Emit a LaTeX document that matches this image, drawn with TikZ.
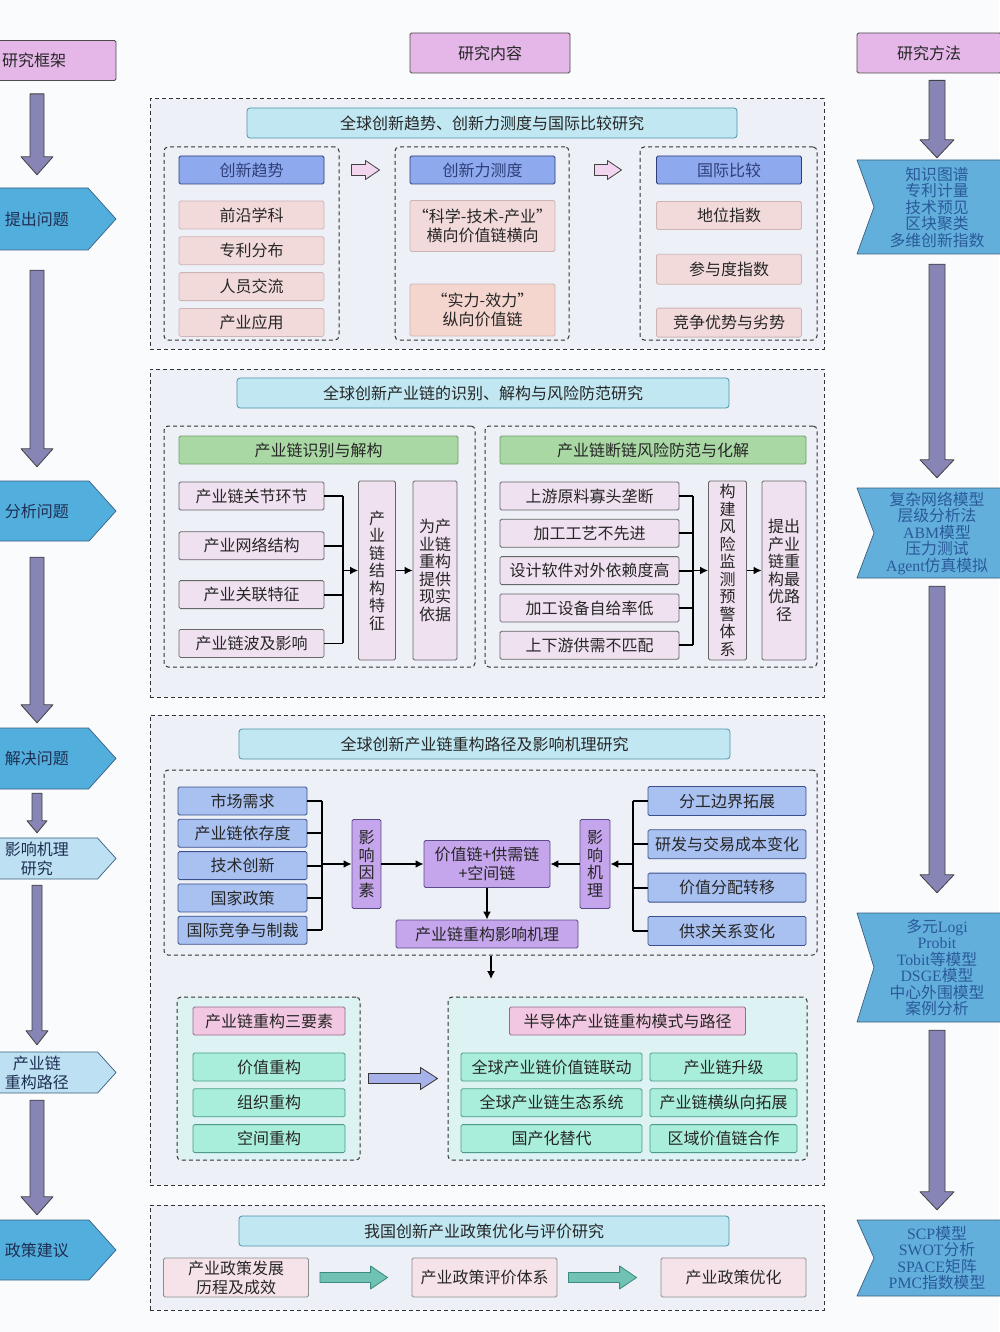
\documentclass[tikz,border=0pt]{standalone}
\usepackage{fontspec}
\setmainfont{Noto Sans CJK SC}
\newfontfamily\latinserif{Liberation Serif}
\usepackage{xcolor}
\usepackage{tikz}
\usetikzlibrary{
  arrows.meta,
  positioning,
  fit,
  calc
}
\definecolor{rkPage}{HTML}{FAFBFD}
\definecolor{rkPanel}{HTML}{EDF1F7}
\definecolor{rkTitle}{HTML}{C0E7F2}
\definecolor{rkTitleLine}{HTML}{4E93AA}
\definecolor{rkHead}{HTML}{8FA9EE}
\definecolor{rkHeadLine}{HTML}{2E3F78}
\definecolor{rkRose}{HTML}{F2DADB}
\definecolor{rkPeach}{HTML}{F5D6CF}
\definecolor{rkRoseLine}{HTML}{CDB5B6}
\definecolor{rkGreen}{HTML}{AAD8A4}
\definecolor{rkGreenLine}{HTML}{6E9E6A}
\definecolor{rkLilac}{HTML}{F0E1F0}
\definecolor{rkSky}{HTML}{A9C1F1}
\definecolor{rkSkyLine}{HTML}{3A4F8C}
\definecolor{rkViolet}{HTML}{C5A5EC}
\definecolor{rkVioletLine}{HTML}{5B4A86}
\definecolor{rkMint}{HTML}{A8EEDB}
\definecolor{rkMintLine}{HTML}{4B9B8A}
\definecolor{rkMintPanel}{HTML}{DDF2F3}
\definecolor{rkPinkHead}{HTML}{F2C7E2}
\definecolor{rkPinkLine}{HTML}{9A6A8A}
\definecolor{rkPolicy}{HTML}{F6E3E9}
\definecolor{rkTeal}{HTML}{6FC2B4}
\definecolor{rkTealLine}{HTML}{3F8A80}
\definecolor{rkFrame}{HTML}{E5B7E8}
\definecolor{rkStep}{HTML}{52AEDD}
\definecolor{rkStepLight}{HTML}{BDE0F2}
\definecolor{rkStepLine}{HTML}{3B5F80}
\definecolor{rkMethod}{HTML}{62AFDB}
\definecolor{rkMethodText}{HTML}{2A5A9A}
\definecolor{rkInk}{HTML}{1E2F52}
\definecolor{rkFlow}{HTML}{8784B6}
\definecolor{rkHollow}{HTML}{F2D5EE}
\definecolor{rkLavender}{HTML}{A7B2EA}
\newcommand\rkfont{\fontsize{16}{19}\selectfont}
\newcommand\rkvfont{\fontsize{16}{17.5}\selectfont}
\newcommand\rkmfont{\fontsize{15.8}{16.5}\selectfont}
\tikzset{
  rknode/.style={
    draw, line width=0.8pt, inner sep=1pt, align=center, font=\rkfont,
    text=black!85, rounded corners=1.5pt
  },
  headtag/.style={rknode, fill=rkFrame, draw=black!70, minimum height=40},
  titlebar/.style={rknode, fill=rkTitle, draw=rkTitleLine, rounded corners=3pt, minimum width=490, minimum height=30},
  headbox/.style={rknode, fill=rkHead, draw=rkHeadLine, text=rkHeadLine, minimum width=145, minimum height=28},
  rosebox/.style={rknode, fill=rkRose, draw=rkRoseLine, minimum width=145, minimum height=28},
  greenbar/.style={rknode, fill=rkGreen, draw=rkGreenLine, minimum height=28},
  lilacbox/.style={rknode, fill=rkLilac, draw=black!60, minimum height=28},
  vbox/.style={rknode, fill=rkLilac, draw=black!60, font=\rkvfont, minimum height=179},
  skybox/.style={rknode, fill=rkSky, draw=rkSkyLine, minimum height=28},
  violetbox/.style={rknode, fill=rkViolet, draw=rkVioletLine, font=\rkvfont},
  pinkhead/.style={rknode, fill=rkPinkHead, draw=rkPinkLine, minimum height=28},
  mintbox/.style={rknode, fill=rkMint, draw=rkMintLine, minimum height=28},
  policybox/.style={rknode, fill=rkPolicy, draw=black!45, minimum width=145, minimum height=39},
  secbox/.style={draw=black!80, dash pattern=on 4pt off 3pt, line width=1pt, fill=rkPanel, inner sep=0},
  grpbox/.style={secbox, rounded corners=4pt},
  mintgrp/.style={grpbox, fill=rkMintPanel},
  stepshape/.style={draw=rkStepLine, line width=0.7pt},
  steptext/.style={align=center, inner sep=0, font=\rkfont, text=rkInk, minimum width=72},
  methodshape/.style={fill=rkMethod, draw=rkStepLine, line width=0.7pt},
  methodtext/.style={align=center, inner sep=0, font=\rkmfont, text=rkMethodText, minimum width=120},
  leftflow/.style={fill=rkFlow, draw=black!75, line width=0.8pt},
  hollowflow/.style={fill=rkHollow, draw=black!75, line width=0.8pt},
  lavflow/.style={fill=rkLavender, draw=black!80, line width=0.8pt},
  tealflow/.style={fill=rkTeal, draw=rkTealLine, line width=0.8pt},
  link/.style={line width=1.8pt, black},
  linkarrow/.style={link, -{Latex[length=8pt, width=8pt]}}
}
% chevron step on the left edge: name, top, bottom, fill, text
\newcommand\leftstep[5]{%
  \pgfmathsetmacro\rkmid{(#2+#3)/2}%
  \pgfmathsetmacro\rkflat{116-0.9*(#3-#2)/2}%
  \filldraw[stepshape, fill=#4] (-2,#2) -- (\rkflat,#2) -- (116,\rkmid) -- (\rkflat,#3) -- (-2,#3) -- cycle;
  \node[steptext, minimum height={#3-#2}] (#1) at (37,\rkmid) {#5};}
% notched method box on the right edge: name, top, bottom, text
\newcommand\methodbox[4]{%
  \pgfmathsetmacro\rkmid{(#2+#3)/2}%
  \filldraw[methodshape] (857,#2) -- (1001,#2) -- (1001,#3) -- (857,#3) -- (874,\rkmid) -- cycle;
  \node[methodtext, minimum height={#3-#2}] (#1) at (937,\rkmid) {#4};}
% block arrows: style, from, to, shaft half, head half, head length
\newcommand\blockdown[6]{%
  \path[#1] let \p1=#2, \p2=#3 in
    (\x1-#4pt,\y1) -- (\x1+#4pt,\y1) -- (\x1+#4pt,\y2+#6pt) -- (\x1+#5pt,\y2+#6pt)
    -- (\x1,\y2) -- (\x1-#5pt,\y2+#6pt) -- (\x1-#4pt,\y2+#6pt) -- cycle;}
\newcommand\blockright[6]{%
  \path[#1] let \p1=#2, \p2=#3 in
    (\x1,\y1+#4pt) -- (\x2-#6pt,\y1+#4pt) -- (\x2-#6pt,\y1+#5pt) -- (\x2,\y1)
    -- (\x2-#6pt,\y1-#5pt) -- (\x2-#6pt,\y1-#4pt) -- (\x1,\y1-#4pt) -- cycle;}

\begin{document}
\begin{tikzpicture}[x=1pt, y=-1pt, line join=round]
  \useasboundingbox (0,0) rectangle (999,1332);
  \fill[rkPage] (0,0) rectangle (999,1332);

  % column heads
  \node[headtag, minimum width=118, text width=110, align=left, inner xsep=4pt] (frame) at (57,60.5) {研究框架};
  \node[headtag, minimum width=160] (content) at (490,53) {研究内容};
  \node[headtag, minimum width=144] (method) at (929,53) {研究方法};

  % left: research frame
  \leftstep{sAsk}{188}{250}{rkStep}{提出问题}
  \leftstep{sAnalyze}{481}{541}{rkStep}{分析问题}
  \leftstep{sSolve}{728}{789}{rkStep}{解决问题}
  \leftstep{sMechStep}{838}{879}{rkStepLight}{影响机理\\研究}
  \leftstep{sRoute}{1052}{1093}{rkStepLight}{产业链\\重构路径}
  \leftstep{sAdvice}{1220}{1280}{rkStep}{政策建议}
  \foreach \a/\b/\g/\hg/\sh/\hh/\hl in {frame/sAsk/13/13/7/16/18, sAsk/sAnalyze/20/14/7/16/18,
      sAnalyze/sSolve/16/5/7/16/18, sSolve/sMechStep/4/5/5/10/12, sMechStep/sRoute/6/7/5/11/14,
      sRoute/sAdvice/7/5/7/16/18}
    \blockdown{leftflow}{($(\a.south -| \b.north)+(0,\g)$)}{($(\b.north)+(0,-\hg)$)}{\sh}{\hh}{\hl};

  % right: methods
  \methodbox{m1}{160}{254}{知识图谱\\专利计量\\技术预见\\区块聚类\\多维创新指数}
  \methodbox{m2}{488}{578}{复杂网络模型\\层级分析法\\{\latinserif ABM}模型\\压力测试\\{\latinserif Agent}仿真模拟}
  \methodbox{m3}{913}{1022}{多元{\latinserif Logi}\\{\latinserif Probit}\\{\latinserif Tobit}等模型\\{\latinserif DSGE}模型\\中心外围模型\\案例分析}
  \methodbox{m4}{1220}{1296}{{\latinserif SCP}模型\\{\latinserif SWOT}分析\\{\latinserif SPACE}矩阵\\{\latinserif PMC}指数模型}
  \foreach \a/\b/\g/\hg in {method/m1/7/2, m1/m2/10/10, m2/m3/8/20, m3/m4/8/10}
    \blockdown{leftflow}{($(\a.south -| \b.north)+(0,\g)$)}{($(\b.north)+(0,-\hg)$)}{8}{17}{18};

  % section 1: trend, measurement, comparison
  \node[secbox, fit={(150,99) (824,349)}] (secTrend) {};
  \node[titlebar] (tTrend) at (492,123) {全球创新趋势、创新力测度与国际比较研究};
  \node[grpbox, fit={(164,147) (339,340)}] (gTrend) {};
  \node[grpbox, fit={(395,147) (569,340)}] (gPower) {};
  \node[grpbox, fit={(640,147) (817,340)}] (gRank) {};
  \node[headbox] (hTrend) at (251.5,170) {创新趋势};
  \node[headbox] (hPower) at (482.5,170) {创新力测度};
  \node[headbox] (hRank) at (729,170) {国际比较};
  \node[rosebox] (t1) at (251.5,215) {前沿学科};
  \node[rosebox, below=7pt of t1] (t2) {专利分布};
  \node[rosebox, below=7pt of t2] (t3) {人员交流};
  \node[rosebox, below=7pt of t3] (t4) {产业应用};
  \node[rosebox, minimum height=51] (w1) at (482.5,226) {“科学-技术-产业”\\横向价值链横向};
  \node[rosebox, fill=rkPeach, minimum height=52] (w2) at (482.5,310) {“实力-效力”\\纵向价值链};
  \node[rosebox] (r1) at (729,215.5) {地位指数};
  \node[rosebox, minimum height=30, below=24pt of r1] (r2) {参与度指数};
  \node[rosebox, minimum height=29, below=23pt of r2] (r3) {竞争优势与劣势};
  \blockright{hollowflow}{($(gTrend.east |- hTrend)+(12,0)$)}{($(gPower.west |- hTrend)+(-15,0)$)}{5.5}{9.5}{14};
  \blockright{hollowflow}{($(gPower.east |- hPower)+(25,0)$)}{($(gRank.west |- hPower)+(-18,0)$)}{5.5}{9.5}{14};

  % section 2: identification and risk
  \node[secbox, fit={(150,369) (824,697)}] (secChain) {};
  \node[titlebar, minimum width=492] (tChain) at (483,393) {全球创新产业链的识别、解构与风险防范研究};
  \node[grpbox, fit={(164,426) (475,667)}] (gIdent) {};
  \node[grpbox, fit={(485,426) (817,667)}] (gRisk) {};
  \node[greenbar, minimum width=279] (hIdent) at (318.5,450) {产业链识别与解构};
  \node[greenbar, minimum width=306] (hRisk) at (653,450) {产业链断链风险防范与化解};
  \node[lilacbox, minimum width=145] (i1) at (251.5,496) {产业链关节环节};
  \node[lilacbox, minimum width=145, below=21pt of i1] (i2) {产业网络结构};
  \node[lilacbox, minimum width=145, below=20pt of i2] (i3) {产业关联特征};
  \node[lilacbox, minimum width=145, below=20pt of i3] (i4) {产业链波及影响};
  \node[vbox, minimum width=37] (vStruct) at (377,570.5) {产\\业\\链\\结\\构\\特\\征};
  \node[vbox, minimum width=44] (vBasis) at (435,570.5) {为产\\业链\\重构\\提供\\现实\\依据};
  \node[lilacbox, minimum width=179] (k1) at (589.5,496) {上游原料寡头垄断};
  \node[lilacbox, minimum width=179, below=8.5pt of k1] (k2) {加工工艺不先进};
  \node[lilacbox, minimum width=179, below=8.5pt of k2] (k3) {设计软件对外依赖度高};
  \node[lilacbox, minimum width=179, below=8.5pt of k3] (k4) {加工设备自给率低};
  \node[lilacbox, minimum width=179, below=8.5pt of k4] (k5) {上下游供需不匹配};
  \node[vbox, minimum width=38] (vMonitor) at (727.5,570.5) {构\\建\\风\\险\\监\\测\\预\\警\\体\\系};
  \node[vbox, minimum width=44] (vPath) at (784,570.5) {提出\\产业\\链重\\构最\\优路\\径};
  \coordinate (busI) at (343,0);
  \coordinate (busK) at (693,0);
  \foreach \n in {i1,i2,i3,i4} \draw[link] (\n.east) -- (\n.east -| busI);
  \draw[link] (i1.east -| busI) -- (i4.east -| busI);
  \draw[linkarrow] (vStruct.west -| busI) -- (vStruct.west);
  \draw[linkarrow] (vStruct) -- (vBasis);
  \foreach \n in {k1,k2,k3,k4,k5} \draw[link] (\n.east) -- (\n.east -| busK);
  \draw[link] (k1.east -| busK) -- (k5.east -| busK);
  \draw[linkarrow] (vMonitor.west -| busK) -- (vMonitor.west);
  \draw[linkarrow] (vMonitor) -- (vPath);

  % section 3: restructuring path and mechanism
  \node[secbox, fit={(150,715) (824,1185)}] (secRoute) {};
  \node[titlebar, minimum width=491] (tRoute) at (484.5,744) {全球创新产业链重构路径及影响机理研究};
  \node[grpbox, fit={(164,770) (817,955)}] (gMechanism) {};
  \node[skybox, minimum width=129] (f1) at (242.5,801) {市场需求};
  \node[skybox, minimum width=129, below=3.5pt of f1] (f2) {产业链依存度};
  \node[skybox, minimum width=129, below=3.5pt of f2] (f3) {技术创新};
  \node[skybox, minimum width=129, below=3.5pt of f3] (f4) {国家政策};
  \node[skybox, minimum width=129, below=3.5pt of f4] (f5) {国际竞争与制裁};
  \node[violetbox, minimum width=29, minimum height=89] (vFactor) at (366.5,864) {影\\响\\因\\素};
  \node[violetbox, font=\rkfont, minimum width=126, minimum height=47] (vCore) at (487,864) {价值链+供需链\\+空间链};
  \node[violetbox, minimum width=30, minimum height=89] (vMech) at (595,864) {影\\响\\机\\理};
  \node[violetbox, font=\rkfont, minimum width=182, minimum height=28] (vResult) at (487,934) {产业链重构影响机理};
  \node[skybox, minimum width=158, minimum height=29] (p1) at (727,801) {分工边界拓展};
  \node[skybox, minimum width=158, minimum height=29, below=13.5pt of p1] (p2) {研发与交易成本变化};
  \node[skybox, minimum width=158, minimum height=29, below=13.5pt of p2] (p3) {价值分配转移};
  \node[skybox, minimum width=158, minimum height=29, below=13.5pt of p3] (p4) {供求关系变化};
  \coordinate (busF) at (322,0);
  \coordinate (busP) at (633,0);
  \foreach \n in {f1,f2,f3,f4,f5} \draw[link] (\n.east) -- (\n.east -| busF);
  \draw[link] (f1.east -| busF) -- (f5.east -| busF);
  \draw[linkarrow] (vFactor.west -| busF) -- (vFactor.west);
  \draw[linkarrow] (vFactor) -- (vCore);
  \foreach \n in {p1,p2,p3,p4} \draw[link] (\n.west) -- (\n.west -| busP);
  \draw[link] (p1.west -| busP) -- (p4.west -| busP);
  \draw[linkarrow] (vMech.east -| busP) -- (vMech.east);
  \draw[linkarrow] (vMech) -- (vCore);
  \draw[linkarrow] (vCore) -- (vResult);
  \coordinate (dropEnd) at (491,979);
  \draw[linkarrow, line width=1.2pt] (gMechanism.south -| dropEnd) -- (dropEnd);
  % elements and semiconductor modes
  \node[mintgrp, fit={(177,997) (360,1160)}] (gElem) {};
  \node[mintgrp, fit={(448,997) (807,1160)}] (gMode) {};
  \node[pinkhead, minimum width=152] (e0) at (269,1021) {产业链重构三要素};
  \node[mintbox, minimum width=152] (e1) at (269,1067) {价值重构};
  \node[mintbox, minimum width=152, below=7pt of e1] (e2) {组织重构};
  \node[mintbox, minimum width=152, below=7pt of e2] (e3) {空间重构};
  \node[pinkhead, minimum width=236] (n0) at (627.5,1021) {半导体产业链重构模式与路径};
  \node[mintbox, minimum width=181] (n1) at (551.5,1067) {全球产业链价值链联动};
  \node[mintbox, minimum width=181, below=7pt of n1] (n2) {全球产业链生态系统};
  \node[mintbox, minimum width=181, below=7pt of n2] (n3) {国产化替代};
  \node[mintbox, minimum width=147] (n4) at (723.5,1067) {产业链升级};
  \node[mintbox, minimum width=147, below=7pt of n4] (n5) {产业链横纵向拓展};
  \node[mintbox, minimum width=147, below=7pt of n5] (n6) {区域价值链合作};
  \blockright{lavflow}{($(gElem.east)+(8,0)$)}{($(gMode.west)+(-10,0)$)}{5}{11}{17};

  % section 4: policy
  \node[secbox, fit={(150,1205) (824,1310)}] (secPolicy) {};
  \node[titlebar] (tPolicy) at (484,1231) {我国创新产业政策优化与评价研究};
  \node[policybox] (q1) at (236,1277.5) {产业政策发展\\历程及成效};
  \node[policybox] (q2) at (484.5,1277.5) {产业政策评价体系};
  \node[policybox] (q3) at (733.5,1277.5) {产业政策优化};
  \foreach \a/\b in {q1/q2, q2/q3}
    \blockright{tealflow}{($(\a.east)+(11,0)$)}{($(\b.west)+(-24,0)$)}{5}{11.5}{17};
\end{tikzpicture}
\end{document}
